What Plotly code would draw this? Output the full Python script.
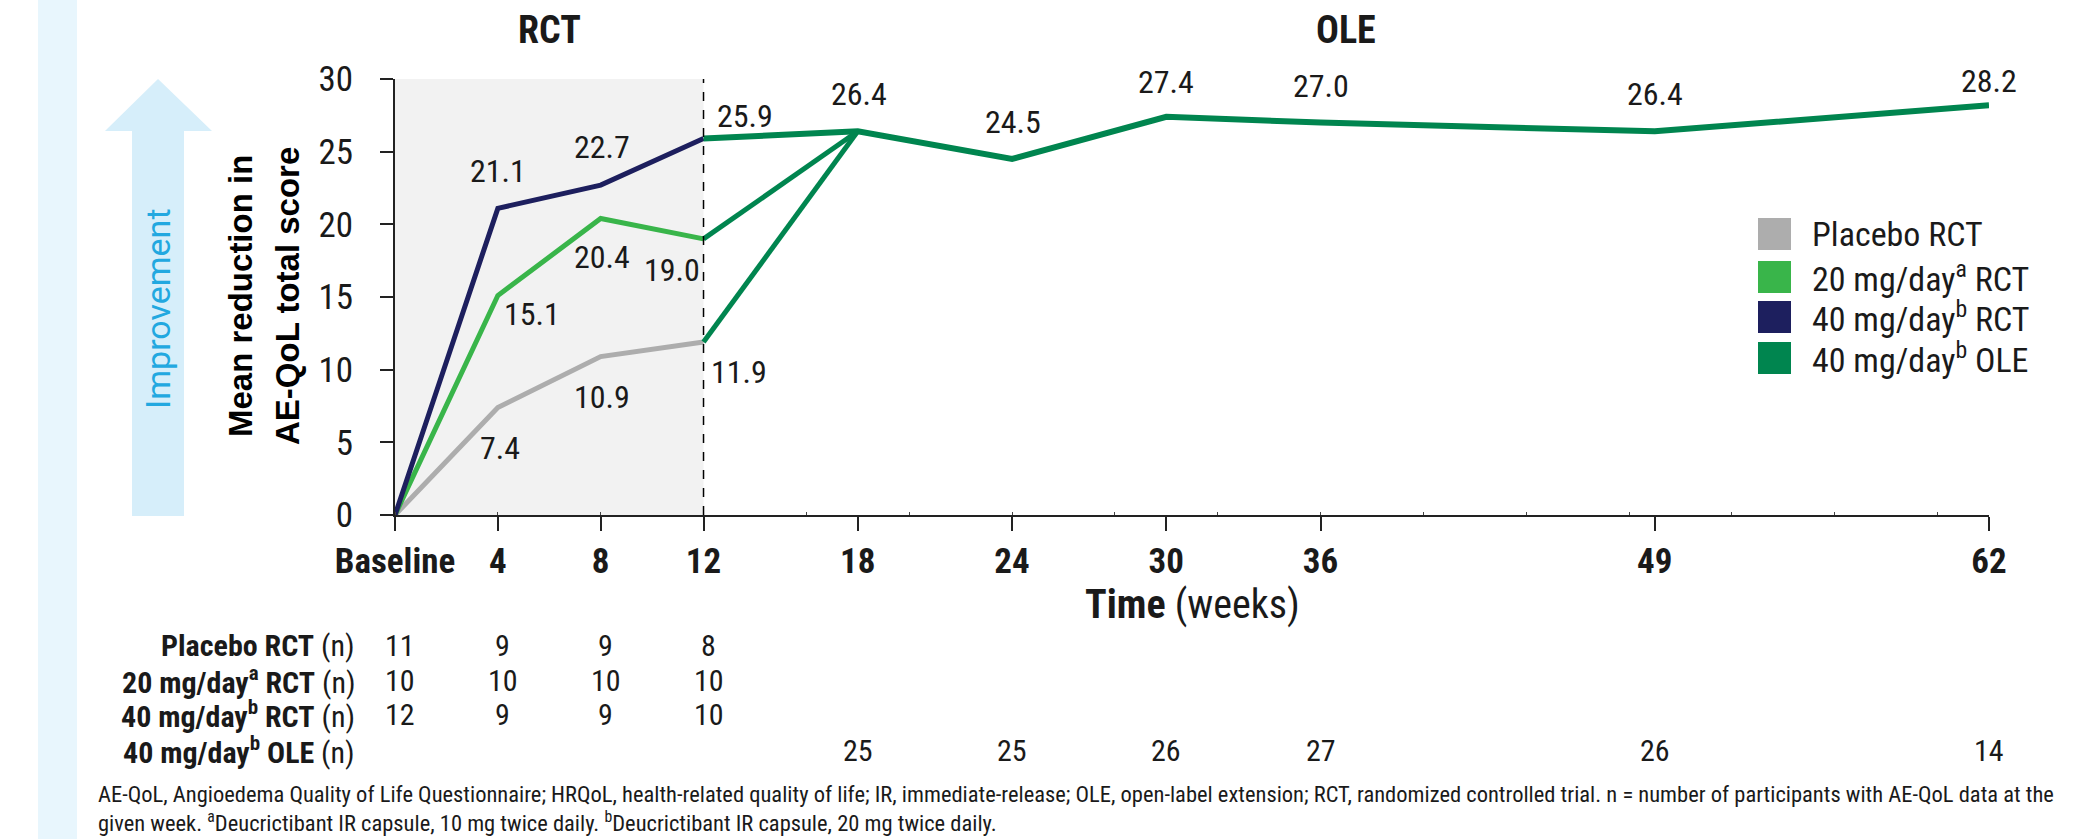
import plotly.graph_objects as go

# ---------------- data ----------------
weeks_rct = [0, 4, 8, 12]
placebo_rct = [0, 7.4, 10.9, 11.9]
mg20_rct = [0, 15.1, 20.4, 19.0]
mg40_rct = [0, 21.1, 22.7, 25.9]

weeks_ole = [12, 18, 24, 30, 36, 49, 62]
mg40_ole = [25.9, 26.4, 24.5, 27.4, 27.0, 26.4, 28.2]

# roll-over links from end of RCT (week 12) to first OLE visit (week 18)
link_weeks = [12, 18]
link_from_20 = [19.0, 26.4]
link_from_pbo = [11.9, 26.4]

tick_vals = [0, 4, 8, 12, 18, 24, 30, 36, 49, 62]
tick_text = ["Baseline", "4", "8", "12", "18", "24", "30", "36", "49", "62"]

n_rct_weeks = [0, 4, 8, 12]
n_placebo = [11, 9, 9, 8]
n_20 = [10, 10, 10, 10]
n_40 = [12, 9, 9, 10]
n_ole_weeks = [18, 24, 30, 36, 49, 62]
n_ole = [25, 25, 26, 27, 26, 14]

series_names = ["Placebo RCT", "20 mg/day<sup>a</sup> RCT", "40 mg/day<sup>b</sup> RCT", "40 mg/day<sup>b</sup> OLE"]
row_names = ["<b>Placebo RCT</b> (n)", "<b>20 mg/day<sup>a</sup> RCT</b> (n)",
             "<b>40 mg/day<sup>b</sup> RCT</b> (n)", "<b>40 mg/day<sup>b</sup> OLE</b> (n)"]

# ---------------- style ----------------
C_PBO = "#adadad"
C_20 = "#39b54a"
C_40 = "#1d1f5e"
C_OLE = "#00854f"
INK = "#1a1a1a"
NARROW = "Liberation Sans Narrow, Arial Narrow, Roboto Condensed, sans-serif"

W, H = 2083, 839
L, R, T, B = 395, 1989, 79, 515  # plot area in pixels


def px(x):
    return (x - L) / (R - L)


def py(y):
    return (B - y) / (B - T)


fig = go.Figure()

# RCT lines
fig.add_trace(go.Scatter(x=weeks_rct, y=placebo_rct, mode="lines",
                         line=dict(color=C_PBO, width=5), showlegend=False))
fig.add_trace(go.Scatter(x=weeks_rct, y=mg20_rct, mode="lines",
                         line=dict(color=C_20, width=5), showlegend=False))
# OLE roll-over links
fig.add_trace(go.Scatter(x=link_weeks, y=link_from_pbo, mode="lines",
                         line=dict(color=C_OLE, width=5), showlegend=False))
fig.add_trace(go.Scatter(x=link_weeks, y=link_from_20, mode="lines",
                         line=dict(color=C_OLE, width=5), showlegend=False))
fig.add_trace(go.Scatter(x=weeks_rct, y=mg40_rct, mode="lines",
                         line=dict(color=C_40, width=5), showlegend=False))
fig.add_trace(go.Scatter(x=weeks_ole, y=mg40_ole, mode="lines",
                         line=dict(color=C_OLE, width=6), showlegend=False))

annotations = []

# data labels (offsets in px: dx, dy with dy positive = up)
lab_font = dict(family=NARROW, size=32, color=INK)
label_sets = [
    (weeks_rct[1:], placebo_rct[1:], [(2, -41), (1, -40), (35, -30)]),
    (weeks_rct[1:], mg20_rct[1:], [(34, -18), (1, -38), (-32, -31)]),
    (weeks_rct[1:], mg40_rct[1:], [(0, 37), (1, 38), (41, 23)]),
    (weeks_ole[1:], mg40_ole[1:], [(1, 37), (1, 37), (0, 35), (0, 37), (0, 37), (0, 24)]),
]
for xs, ys, offs in label_sets:
    for x, y, (dx, dy) in zip(xs, ys, offs):
        annotations.append(dict(x=x, y=y, xref="x", yref="y", text=f"{y:.1f}",
                                showarrow=False, xshift=dx, yshift=dy, font=lab_font,
                                xanchor="center", yanchor="middle"))

# phase headers
for x, t in [(6, "RCT"), (37, "OLE")]:
    annotations.append(dict(x=x, y=py(30), xref="x", yref="paper", text=f"<b>{t}</b>",
                            showarrow=False, font=dict(family=NARROW, size=38, color=INK),
                            xanchor="center", yanchor="middle"))

# y-axis title (two lines)
for xc, line in [(240, "Mean reduction in"), (287, "AE-QoL total score")]:
    annotations.append(dict(x=px(xc), y=py(296), xref="paper", yref="paper",
                            text=f"<b>{line}</b>", textangle=-90, showarrow=False,
                            font=dict(family="Liberation Sans, Arial, sans-serif", size=33, color="#000000"),
                            xanchor="center", yanchor="middle"))

# Improvement text
annotations.append(dict(x=px(158), y=py(309), xref="paper", yref="paper",
                        text="Improvement", textangle=-90, showarrow=False,
                        font=dict(family="Roboto, sans-serif", size=34, color="#22a8e0"),
                        xanchor="center", yanchor="middle"))

# x-axis title
annotations.append(dict(x=31, y=py(604), xref="x", yref="paper",
                        text="<b>Time</b> (weeks)", showarrow=False,
                        font=dict(family=NARROW, size=40, color=INK),
                        xanchor="center", yanchor="middle"))

# legend (custom)
shapes = []
leg_colors = [C_PBO, C_20, C_40, C_OLE]
leg_y = [234, 277, 317, 358]
for c, yc, name in zip(leg_colors, leg_y, series_names):
    shapes.append(dict(type="rect", xref="paper", yref="paper",
                       x0=px(1758), x1=px(1791), y0=py(yc + 16), y1=py(yc - 16),
                       fillcolor=c, line=dict(width=0)))
    annotations.append(dict(x=px(1810), y=py(yc), xref="paper", yref="paper", text=name,
                            showarrow=False, font=dict(family=NARROW, size=34, color=INK),
                            xanchor="left", yanchor="middle"))

# n table
row_y = [645, 680, 714, 750]
for name, yc in zip(row_names, row_y):
    annotations.append(dict(x=px(357), y=py(yc), xref="paper", yref="paper", text=name,
                            showarrow=False, font=dict(family=NARROW, size=30, color=INK),
                            xanchor="right", yanchor="middle"))
tab_font = dict(family=NARROW, size=30, color=INK)
for vals, yc in zip([n_placebo, n_20, n_40], row_y[:3]):
    for wk, v in zip(n_rct_weeks, vals):
        annotations.append(dict(x=wk, y=py(yc), xref="x", yref="paper", text=str(v),
                                showarrow=False, xshift=5, font=tab_font,
                                xanchor="center", yanchor="middle"))
for wk, v in zip(n_ole_weeks, n_ole):
    annotations.append(dict(x=wk, y=py(row_y[3]), xref="x", yref="paper", text=str(v),
                            showarrow=False, font=tab_font, xanchor="center", yanchor="middle"))

# footnote
foot = ("AE-QoL, Angioedema Quality of Life Questionnaire; HRQoL, health-related quality of life; "
        "IR, immediate-release; OLE, open-label extension; RCT, randomized controlled trial. "
        "n = number of participants with AE-QoL data at the<br>given week. "
        "<sup>a</sup>Deucrictibant IR capsule, 10 mg twice daily. "
        "<sup>b</sup>Deucrictibant IR capsule, 20 mg twice daily.")
annotations.append(dict(x=px(96), y=py(808), xref="paper", yref="paper", text=foot,
                        showarrow=False, align="left", font=dict(family=NARROW, size=22.5, color=INK),
                        xanchor="left", yanchor="middle"))

# background band, arrow, RCT shading, dashed divider
shapes.append(dict(type="rect", xref="paper", yref="paper", x0=px(38), x1=px(77),
                   y0=py(H + 5), y1=py(-5), fillcolor="#e8f6fd", line=dict(width=0), layer="below"))
arrow_pts = [(158, 79), (212, 131), (184, 131), (184, 516), (132, 516), (132, 131), (105, 131)]
path = "M " + " L ".join(f"{px(a):.5f},{py(b):.5f}" for a, b in arrow_pts) + " Z"
shapes.append(dict(type="path", xref="paper", yref="paper", path=path,
                   fillcolor="#d6eefa", line=dict(width=0), layer="below"))
shapes.append(dict(type="rect", xref="x", yref="y", x0=0, x1=12, y0=0, y1=30,
                   fillcolor="#f2f2f2", line=dict(width=0), layer="below"))
shapes.append(dict(type="line", xref="x", yref="y", x0=12, x1=12, y0=0, y1=30,
                   line=dict(color="#000000", width=1.5, dash="dash")))

fig.update_layout(
    width=W, height=H,
    margin=dict(l=L, r=W - R, t=T, b=H - B, pad=0),
    paper_bgcolor="white", plot_bgcolor="white",
    showlegend=False,
    annotations=annotations, shapes=shapes,
)
fig.update_xaxes(range=[0, 62], tickvals=tick_vals, ticktext=tick_text,
                 showgrid=False, zeroline=False, showline=True, linecolor="#222222", linewidth=2,
                 ticks="outside", ticklen=14, tickwidth=2, tickcolor="#222222",
                 tickfont=dict(family=NARROW, size=35, color=INK, weight="bold"),
                 minor=dict(tick0=0, dtick=4, ticks="inside", ticklen=3, tickwidth=1, tickcolor="#444444"))
fig.update_yaxes(range=[0, 30], tickvals=[0, 5, 10, 15, 20, 25, 30],
                 showgrid=False, zeroline=False, showline=True, linecolor="#222222", linewidth=2,
                 ticks="outside", ticklen=13, tickwidth=2, tickcolor="#222222",
                 ticklabelstandoff=20,
                 tickfont=dict(family=NARROW, size=35, color=INK))

fig.write_html("out.html", config={"displayModeBar": False},
               post_script="document.body.style.margin='0px';document.body.style.overflow='hidden';")
